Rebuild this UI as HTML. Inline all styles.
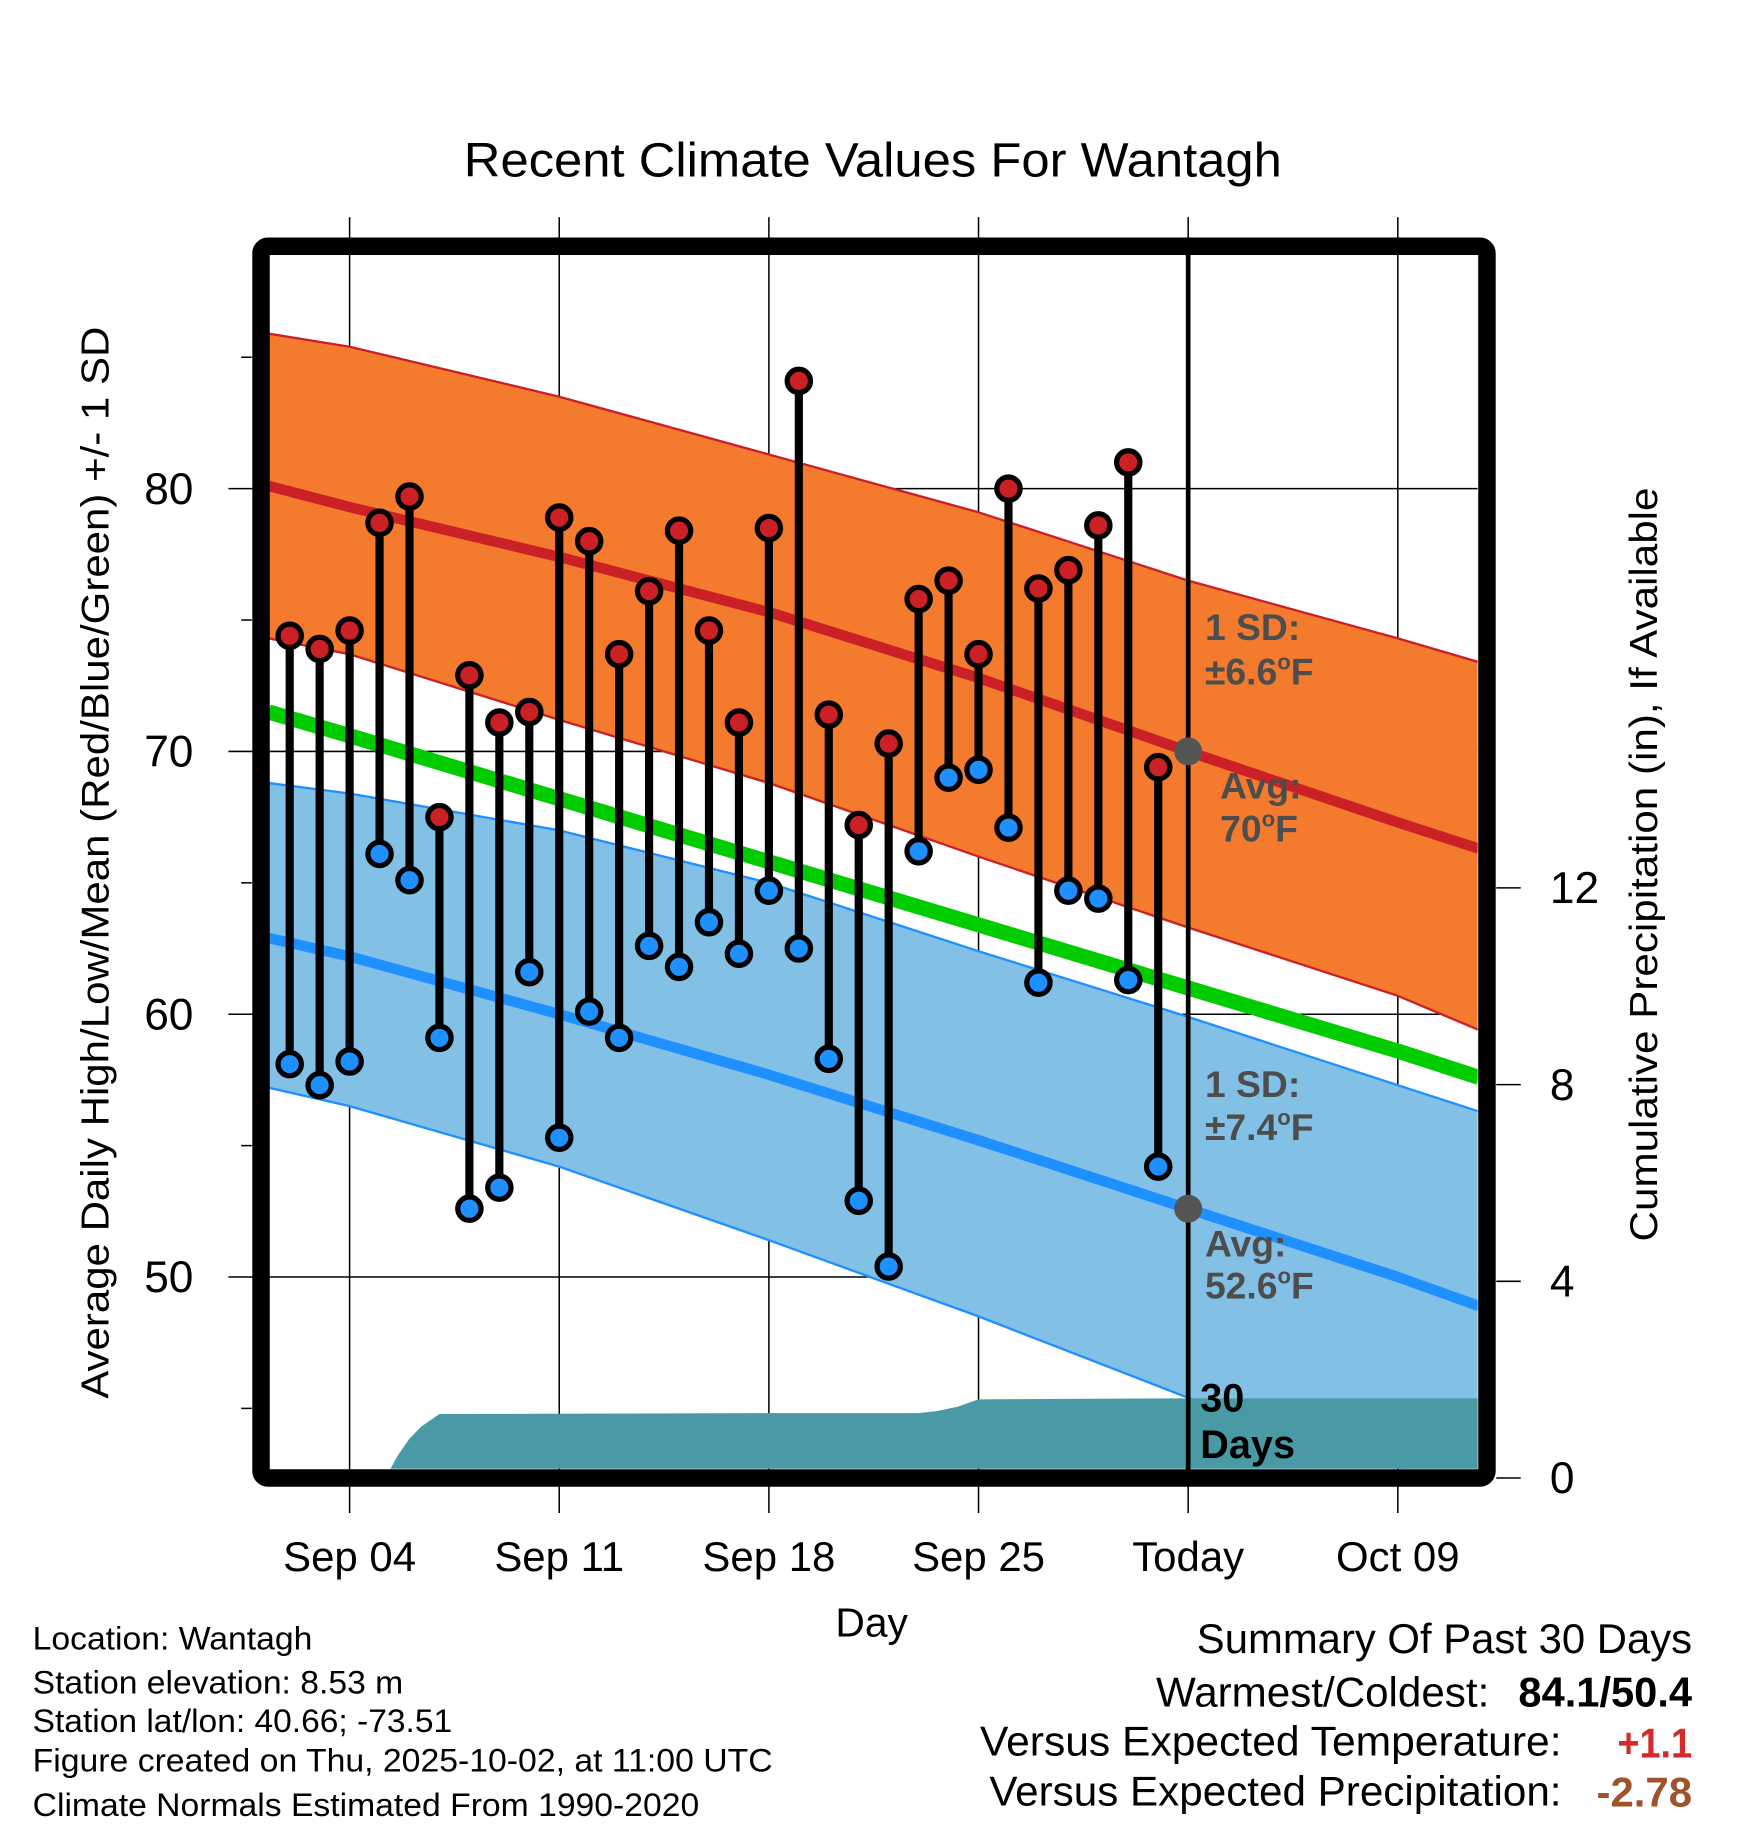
<!DOCTYPE html>
<html><head><meta charset="utf-8"><style>
html,body{margin:0;padding:0;background:#fff;}
svg{display:block;font-family:"Liberation Sans",sans-serif;}
</style></head><body>
<svg id="chart" width="1748" height="1828" viewBox="0 0 1500 1568" xmlns="http://www.w3.org/2000/svg">
<defs><clipPath id="plotclip"><rect x="231" y="218" width="1037" height="1042"/></clipPath></defs>
<text x="398" y="151" font-size="41" textLength="702" lengthAdjust="spacingAndGlyphs">Recent Climate Values For Wantagh</text>
<g id="grid"></g>
<g id="plot" clip-path="url(#plotclip)"></g>
<g id="over"></g>
<rect x="224" y="211" width="1052" height="1057" rx="6" fill="none" stroke="#000" stroke-width="15"/>
<g id="axes"></g>
<text transform="translate(93,1200) rotate(-90)" font-size="33" textLength="920" lengthAdjust="spacingAndGlyphs">Average Daily High/Low/Mean (Red/Blue/Green) +/- 1 SD</text>
<text transform="translate(1422,1065) rotate(-90)" font-size="33" textLength="647" lengthAdjust="spacingAndGlyphs">Cumulative Precipitation (in), If Available</text>
<text x="748" y="1404" font-size="35" text-anchor="middle">Day</text>
<g font-size="28">
<text x="28" y="1415" textLength="240" lengthAdjust="spacingAndGlyphs">Location: Wantagh</text>
<text x="28" y="1453" textLength="318" lengthAdjust="spacingAndGlyphs">Station elevation: 8.53 m</text>
<text x="28" y="1486" textLength="360" lengthAdjust="spacingAndGlyphs">Station lat/lon: 40.66; -73.51</text>
<text x="28" y="1520" textLength="635" lengthAdjust="spacingAndGlyphs">Figure created on Thu, 2025-10-02, at 11:00 UTC</text>
<text x="28" y="1558" textLength="572" lengthAdjust="spacingAndGlyphs">Climate Normals Estimated From 1990-2020</text>
</g>
<g font-size="36">
<text x="1027" y="1418" textLength="425" lengthAdjust="spacingAndGlyphs">Summary Of Past 30 Days</text>
<text x="992" y="1464" textLength="286" lengthAdjust="spacingAndGlyphs">Warmest/Coldest:</text>
<text x="1303" y="1464" font-weight="bold" textLength="149" lengthAdjust="spacingAndGlyphs">84.1/50.4</text>
<text x="841" y="1506" textLength="499" lengthAdjust="spacingAndGlyphs">Versus Expected Temperature:</text>
<text x="1388" y="1508" font-weight="bold" fill="#d42a2a" textLength="64" lengthAdjust="spacingAndGlyphs">+1.1</text>
<text x="849" y="1549" textLength="491" lengthAdjust="spacingAndGlyphs">Versus Expected Precipitation:</text>
<text x="1370" y="1550" font-weight="bold" fill="#a0522d" textLength="82" lengthAdjust="spacingAndGlyphs">-2.78</text>
</g>
</svg>
<script>
// Days measured as day-of-September (Oct 2 = 32)
const obsDays = [2,3,4,5,6,7,8,9,10,11,12,13,14,15,16,17,18,19,20,21,22,23,24,25,26,27,28,29,30,31];
const highs = [74.4,73.9,74.6,78.7,79.7,67.5,72.9,71.1,71.5,78.9,78.0,73.7,76.1,78.4,74.6,71.1,78.5,84.1,71.4,67.2,70.3,75.8,76.5,73.7,80.0,76.2,76.9,78.6,81.0,69.4];
const lows = [58.1,57.3,58.2,66.1,65.1,59.1,52.6,53.4,61.6,55.3,60.1,59.1,62.6,61.8,63.5,62.3,64.7,62.5,58.3,52.9,50.4,66.2,69.0,69.3,67.1,61.2,64.7,64.4,61.3,54.2];
const bandDays = [1.3,4,11,18,25,32,39,41.7];
const normHigh = [80.1,79.3,77.4,75.3,72.8,70.0,67.3,66.3];
const highUpper = [85.9,85.4,83.5,81.3,79.1,76.5,74.3,73.4];
const highLower = [74.3,73.7,71.2,68.8,66.0,63.3,60.7,59.4];
const normMean = [71.5,70.6,68.2,65.8,63.4,61.0,58.6,57.6];
const normLow = [62.9,62.2,60.0,57.7,55.2,52.6,50.0,48.9];
const lowUpper = [68.8,68.4,67.0,65.0,62.4,59.9,57.3,56.3];
const lowLower = [57.2,56.5,54.2,51.4,48.5,45.4,42.8,41.5];
const precipDays = [1.3,5.2,5.6,6,6.4,7,12,18,23,23.6,24.3,25,32,41.7];
const precipVals = [0,0,0.45,0.8,1.05,1.3,1.31,1.32,1.32,1.36,1.45,1.6,1.62,1.62];
const xTickDays = [4,11,18,25,32,39];
const xTickLabels = ["Sep 04","Sep 11","Sep 18","Sep 25","Today","Oct 09"];
const yTicks = [50,60,70,80];
const yMinor = [45,55,65,75,85];
const y2Ticks = [0,4,8,12];
const todayDay = 32;
const avgHighToday = 70.0, avgLowToday = 52.6;

const NS="http://www.w3.org/2000/svg";
const X = d => 300 + (d-4)*25.7;
const Y = v => 419 + (80-v)*22.55;
const YP = p => 1268 - p*42.2;
function mk(tag, attrs, parent){const e=document.createElementNS(NS,tag);for(const k in attrs)e.setAttribute(k,attrs[k]);parent.appendChild(e);return e;}
const plot=document.getElementById('plot'), grid=document.getElementById('grid'), axes=document.getElementById('axes'), over=document.getElementById('over');
function pts(days, vals, fy){return days.map((d,i)=>X(d).toFixed(1)+','+fy(vals[i]).toFixed(1));}
function band(up, lo, fill, name){
  const p = pts(bandDays,up,Y).concat(pts(bandDays,lo,Y).reverse());
  const e=mk('polygon',{points:p.join(' '),fill:fill},plot);
  
  
}
function line(vals, color, w, name){
  const e=mk('polyline',{points:pts(bandDays,vals,Y).join(' '),fill:'none',stroke:color,'stroke-width':w,'stroke-linejoin':'round'},plot);
  
  
}
band(highUpper, highLower, '#f47a2e', 'high-sd-band');
band(lowUpper, lowLower, '#83c0e6', 'low-sd-band');
line(highUpper,'#cc2027',2,'high-upper-edge');
line(highLower,'#cc2027',2,'high-lower-edge');
line(lowUpper,'#1e90ff',2,'low-upper-edge');
line(lowLower,'#1e90ff',2,'low-lower-edge');
line(normMean,'#00cc00',13,'normal-mean-line');
line(normHigh,'#cc2027',9,'normal-high-line');
line(normLow,'#1e90ff',9,'normal-low-line');
{
  const p = pts(precipDays,precipVals,YP);
  p.push(X(precipDays[precipDays.length-1]).toFixed(1)+',1270', X(precipDays[0]).toFixed(1)+',1270');
  const e=mk('polygon',{points:p.join(' '),fill:'#4a9aa5'},plot);
  
  
}
xTickDays.forEach((d,i)=>{
  const e=mk('line',{x1:X(d),x2:X(d),y1:186,y2:1298,stroke:'#000','stroke-width':1.3},grid);
  
  
  const t=mk('text',{x:X(d),y:1348,'font-size':36,'text-anchor':'middle'},axes);
  t.textContent=xTickLabels[i];
  
  
});
yTicks.forEach(v=>{
  const e=mk('line',{x1:196,x2:1268,y1:Y(v),y2:Y(v),stroke:'#000','stroke-width':1.3},grid);
  
  
  const t=mk('text',{x:166,y:Y(v)+13,'font-size':38,'text-anchor':'end'},axes);
  t.textContent=v;
  
  
});
yMinor.forEach(v=>{
  const e=mk('line',{x1:207,x2:216,y1:Y(v),y2:Y(v),stroke:'#000','stroke-width':1.3},axes);
  
  
});
y2Ticks.forEach(v=>{
  const e=mk('line',{x1:1284,x2:1305,y1:YP(v),y2:YP(v),stroke:'#000','stroke-width':1.3},axes);
  
  
  const t=mk('text',{x:1330,y:YP(v)+13,'font-size':38,'text-anchor':'start'},axes);
  t.textContent=v;
  
  
});
{
  const e=mk('line',{x1:X(todayDay),x2:X(todayDay),y1:218,y2:1262,stroke:'#000','stroke-width':4},over);
  
  
}
obsDays.forEach((d,i)=>{
  const g=mk('g',{},over);
  
  
  const s=mk('line',{x1:X(d),x2:X(d),y1:Y(highs[i]),y2:Y(lows[i]),stroke:'#000','stroke-width':7},g);
  
  
  const h=mk('circle',{cx:X(d),cy:Y(highs[i]),r:10,fill:'#cc2027',stroke:'#000','stroke-width':4.5},g);
  
  
  const l=mk('circle',{cx:X(d),cy:Y(lows[i]),r:10,fill:'#1e90ff',stroke:'#000','stroke-width':4.5},g);
  
  
});
[avgHighToday, avgLowToday].forEach(v=>{
  const c=mk('circle',{cx:X(todayDay),cy:Y(v),r:12,fill:'#555'},over);
  
  
});
function ann(txt, x, y, color, name, sup, fs){
  const t=mk('text',{x:x,y:y,'font-size':fs||32,'font-weight':'bold',fill:color},over);
  
  
  if(sup){
    t.appendChild(document.createTextNode(txt));
    const s=mk('tspan',{dy:-13,'font-size':19},t); s.textContent='o';
    const f=mk('tspan',{dy:13},t); f.textContent='F';
  } else t.textContent=txt;
}
ann('1 SD:',1034,549,'#4d4d4d','high-sd-label');
ann('\u00b16.6',1034,587,'#4d4d4d','high-sd-value',true);
ann('Avg:',1047,685,'#4d4d4d','high-avg-label');
ann('70',1047,722,'#4d4d4d','high-avg-value',true);
ann('1 SD:',1034,941,'#4d4d4d','low-sd-label');
ann('\u00b17.4',1034,978,'#4d4d4d','low-sd-value',true);
ann('Avg:',1034,1078,'#4d4d4d','low-avg-label');
ann('52.6',1034,1114,'#4d4d4d','low-avg-value',true);
ann('30',1030,1211,'#000','days-count',false,34);
ann('Days',1030,1251,'#000','days-label',false,34);
</script>
</body></html>
